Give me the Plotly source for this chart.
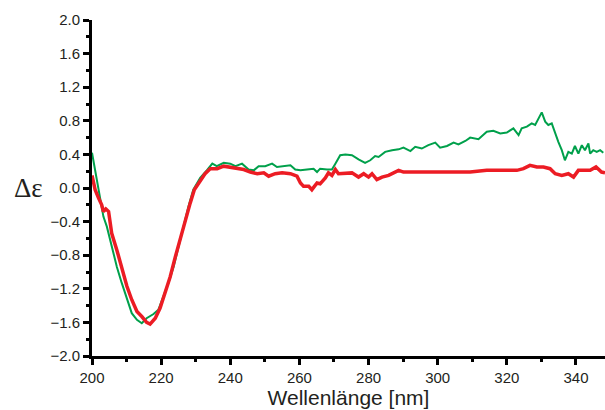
import plotly.graph_objects as go

# Green spectrum (wavelength nm, Δε)
green_nm = [200.0, 200.9, 201.9, 203.3, 204.3, 205.7, 207.2, 208.6, 210.1, 211.5, 213.0, 214.4, 215.8,
            217.8, 219.2, 220.7, 222.1, 223.6, 225.0, 226.4, 227.9, 229.3, 231.3, 233.2, 234.8, 236.1,
            238.1, 240.0, 241.5, 243.4, 245.3, 246.8, 248.2, 250.1, 252.1, 253.5, 255.4, 257.4, 258.8,
            260.3, 262.2, 264.1, 265.1, 266.0, 268.0, 269.4, 270.4, 271.8, 273.3, 275.2, 277.1, 279.0,
            280.5, 281.9, 282.9, 284.8, 286.8, 288.7, 290.1, 292.1, 293.5, 295.4, 297.3, 299.3, 300.7,
            302.7, 304.6, 306.0, 308.0, 309.4, 311.8, 314.2, 316.1, 318.1, 320.0, 321.9, 323.4, 324.3,
            325.8, 327.2, 328.2, 329.1, 330.1, 331.1, 332.0, 333.0, 334.0, 334.9, 335.9, 336.8, 337.8,
            338.8, 339.7, 340.7, 341.7, 342.6, 343.6, 344.1, 345.0, 346.0, 347.0, 347.9]
green_de = [0.42, 0.21, -0.02, -0.34, -0.46, -0.70, -0.94, -1.13, -1.33, -1.49, -1.57, -1.61, -1.55,
            -1.50, -1.45, -1.29, -1.13, -0.94, -0.70, -0.46, -0.22, -0.02, 0.12, 0.21, 0.29, 0.26,
            0.30, 0.29, 0.26, 0.29, 0.22, 0.21, 0.26, 0.26, 0.29, 0.25, 0.26, 0.27, 0.22,
            0.21, 0.22, 0.23, 0.19, 0.23, 0.22, 0.22, 0.29, 0.39, 0.40, 0.39, 0.34, 0.30,
            0.33, 0.38, 0.37, 0.43, 0.45, 0.46, 0.48, 0.44, 0.49, 0.47, 0.51, 0.54, 0.48,
            0.50, 0.54, 0.52, 0.56, 0.60, 0.58, 0.67, 0.68, 0.65, 0.66, 0.71, 0.63, 0.71,
            0.73, 0.77, 0.75, 0.82, 0.90, 0.79, 0.75, 0.77, 0.65, 0.55, 0.45, 0.33, 0.43,
            0.41, 0.50, 0.41, 0.51, 0.45, 0.53, 0.41, 0.45, 0.43, 0.45, 0.42]

# Red spectrum (wavelength nm, Δε)
red_nm = [200.0, 200.9, 201.9, 202.8, 203.3, 204.0, 204.8, 205.7, 207.2, 208.6, 210.1, 211.5, 213.0,
          214.4, 215.8, 216.8, 218.3, 219.7, 221.2, 222.6, 224.1, 225.5, 227.0, 228.4, 229.6, 231.3,
          232.7, 234.2, 236.2, 238.1, 240.0, 242.0, 243.9, 245.8, 247.8, 249.7, 251.1, 253.0, 255.0,
          257.4, 259.3, 260.3, 261.2, 262.7, 263.6, 265.1, 266.0, 267.5, 268.4, 269.4, 270.4, 271.3,
          272.8, 275.2, 277.1, 278.6, 280.0, 281.0, 282.4, 283.9, 285.8, 287.7, 288.7, 290.1, 295.0,
          300.0, 305.0, 309.4, 314.2, 319.0, 322.9, 324.8, 326.7, 328.7, 330.6, 332.5, 334.0, 335.9,
          337.8, 339.3, 340.7, 342.6, 344.1, 345.8, 347.4, 348.4]
red_de = [0.15, -0.02, -0.12, -0.20, -0.28, -0.25, -0.28, -0.54, -0.74, -0.94, -1.17, -1.33, -1.47,
          -1.53, -1.60, -1.62, -1.55, -1.43, -1.25, -1.06, -0.82, -0.60, -0.38, -0.18, -0.02, 0.08,
          0.17, 0.23, 0.23, 0.26, 0.25, 0.23, 0.22, 0.19, 0.17, 0.18, 0.14, 0.17, 0.18,
          0.17, 0.14, 0.06, 0.02, 0.02, -0.02, 0.06, 0.05, 0.12, 0.18, 0.15, 0.22, 0.17,
          0.17, 0.18, 0.13, 0.17, 0.13, 0.17, 0.10, 0.13, 0.15, 0.19, 0.21, 0.19, 0.19,
          0.19, 0.19, 0.19, 0.21, 0.21, 0.21, 0.23, 0.27, 0.25, 0.25, 0.23, 0.17, 0.15,
          0.17, 0.13, 0.21, 0.21, 0.21, 0.25, 0.19, 0.18]

x_range = [200, 348.4]
y_range = [-2.0, 2.0]

fig = go.Figure()
fig.add_trace(go.Scatter(x=green_nm, y=green_de, mode="lines",
                         line=dict(color="#00a04b", width=2), showlegend=False))
fig.add_trace(go.Scatter(x=red_nm, y=red_de, mode="lines",
                         line=dict(color="#ec1c24", width=3.5), showlegend=False))

axis_common = dict(showline=True, linecolor="black", linewidth=3, ticks="outside",
                   tickcolor="black", tickwidth=3, ticklen=6, showgrid=False, zeroline=False,
                   tickfont=dict(family="Liberation Sans, Arial, sans-serif", size=15, color="#231f20"))

fig.update_xaxes(range=x_range, dtick=20, tick0=200,
                 minor=dict(dtick=10, ticks="outside", ticklen=3, tickwidth=3, tickcolor="black"),
                 title=dict(text="Wellenlänge [nm]", standoff=5,
                            font=dict(family="Liberation Sans, Arial, sans-serif", size=21, color="#231f20")),
                 **axis_common)
fig.update_yaxes(range=y_range, dtick=0.4, tick0=-2.0, tickformat=".1f",
                 minor=dict(dtick=0.2, ticks="outside", ticklen=3, tickwidth=3, tickcolor="black"),
                 **axis_common)

fig.add_annotation(text="Δε", xref="paper", yref="y", x=0, y=0, xanchor="right", yanchor="middle",
                   xshift=-47, showarrow=False,
                   font=dict(family="Liberation Serif, Times New Roman, serif", size=27, color="#231f20"))

fig.update_layout(width=605, height=410, margin=dict(l=92, r=0, t=20, b=54),
                  plot_bgcolor="white", paper_bgcolor="white")

fig.write_html("out.html")
